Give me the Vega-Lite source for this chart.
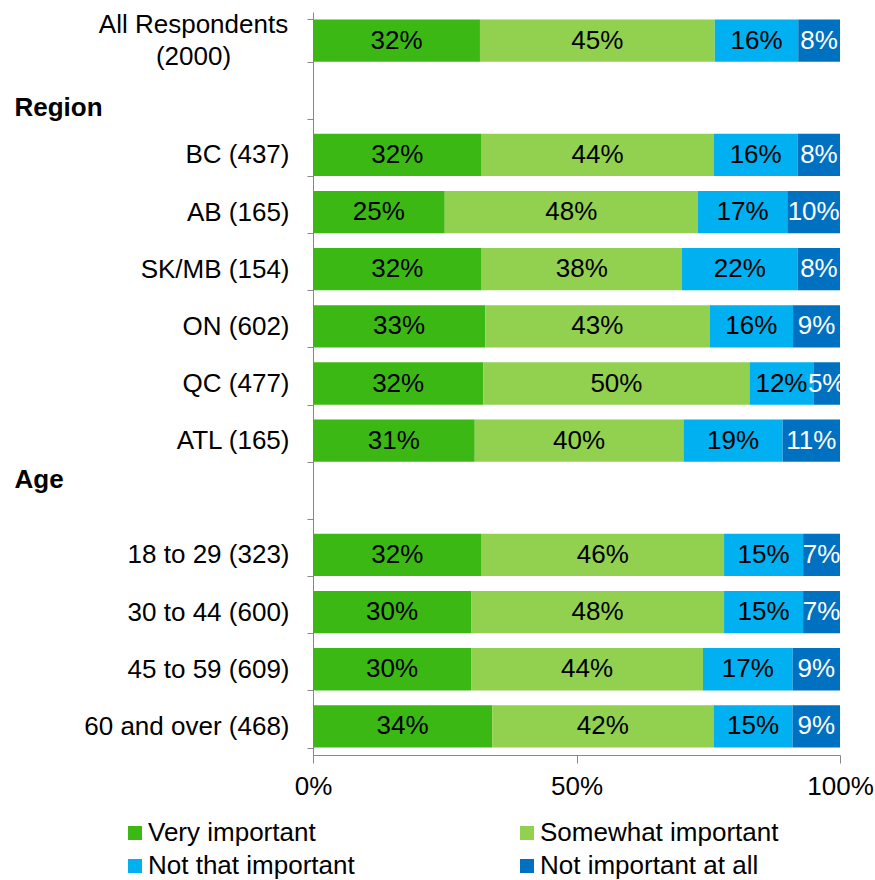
{
  "$schema": "https://vega.github.io/schema/vega-lite/v6.json",
  "width": 527,
  "height": 743,
  "autosize": "none",
  "padding": {"left": 313, "top": 12, "right": 35, "bottom": 125},
  "config": {"font": "Liberation Sans", "view": {"stroke": null}},
  "data": {
    "values": [
      {"cat": "All Respondents (2000)", "resp": "Very important", "pct": 32},
      {"cat": "All Respondents (2000)", "resp": "Somewhat important", "pct": 45},
      {"cat": "All Respondents (2000)", "resp": "Not that important", "pct": 16},
      {"cat": "All Respondents (2000)", "resp": "Not important at all", "pct": 8},
      {"cat": "BC (437)", "resp": "Very important", "pct": 32},
      {"cat": "BC (437)", "resp": "Somewhat important", "pct": 44},
      {"cat": "BC (437)", "resp": "Not that important", "pct": 16},
      {"cat": "BC (437)", "resp": "Not important at all", "pct": 8},
      {"cat": "AB (165)", "resp": "Very important", "pct": 25},
      {"cat": "AB (165)", "resp": "Somewhat important", "pct": 48},
      {"cat": "AB (165)", "resp": "Not that important", "pct": 17},
      {"cat": "AB (165)", "resp": "Not important at all", "pct": 10},
      {"cat": "SK/MB (154)", "resp": "Very important", "pct": 32},
      {"cat": "SK/MB (154)", "resp": "Somewhat important", "pct": 38},
      {"cat": "SK/MB (154)", "resp": "Not that important", "pct": 22},
      {"cat": "SK/MB (154)", "resp": "Not important at all", "pct": 8},
      {"cat": "ON (602)", "resp": "Very important", "pct": 33},
      {"cat": "ON (602)", "resp": "Somewhat important", "pct": 43},
      {"cat": "ON (602)", "resp": "Not that important", "pct": 16},
      {"cat": "ON (602)", "resp": "Not important at all", "pct": 9},
      {"cat": "QC (477)", "resp": "Very important", "pct": 32},
      {"cat": "QC (477)", "resp": "Somewhat important", "pct": 50},
      {"cat": "QC (477)", "resp": "Not that important", "pct": 12},
      {"cat": "QC (477)", "resp": "Not important at all", "pct": 5},
      {"cat": "ATL (165)", "resp": "Very important", "pct": 31},
      {"cat": "ATL (165)", "resp": "Somewhat important", "pct": 40},
      {"cat": "ATL (165)", "resp": "Not that important", "pct": 19},
      {"cat": "ATL (165)", "resp": "Not important at all", "pct": 11},
      {"cat": "18 to 29 (323)", "resp": "Very important", "pct": 32},
      {"cat": "18 to 29 (323)", "resp": "Somewhat important", "pct": 46},
      {"cat": "18 to 29 (323)", "resp": "Not that important", "pct": 15},
      {"cat": "18 to 29 (323)", "resp": "Not important at all", "pct": 7},
      {"cat": "30 to 44 (600)", "resp": "Very important", "pct": 30},
      {"cat": "30 to 44 (600)", "resp": "Somewhat important", "pct": 48},
      {"cat": "30 to 44 (600)", "resp": "Not that important", "pct": 15},
      {"cat": "30 to 44 (600)", "resp": "Not important at all", "pct": 7},
      {"cat": "45 to 59 (609)", "resp": "Very important", "pct": 30},
      {"cat": "45 to 59 (609)", "resp": "Somewhat important", "pct": 44},
      {"cat": "45 to 59 (609)", "resp": "Not that important", "pct": 17},
      {"cat": "45 to 59 (609)", "resp": "Not important at all", "pct": 9},
      {"cat": "60 and over (468)", "resp": "Very important", "pct": 34},
      {"cat": "60 and over (468)", "resp": "Somewhat important", "pct": 42},
      {"cat": "60 and over (468)", "resp": "Not that important", "pct": 15},
      {"cat": "60 and over (468)", "resp": "Not important at all", "pct": 9}
    ]
  },
  "transform": [
    {"calculate": "indexof(['Very important','Somewhat important','Not that important','Not important at all'], datum.resp)", "as": "ord"},
    {"stack": "pct", "groupby": ["cat"], "sort": [{"field": "ord", "order": "ascending"}], "offset": "normalize", "as": ["x0", "x1"]},
    {"calculate": "(datum.x0 + datum.x1) / 2", "as": "xm"},
    {"calculate": "datum.pct + '%'", "as": "lbl"}
  ],
  "encoding": {
    "y": {
      "field": "cat",
      "type": "nominal",
      "scale": {
        "domain": ["All Respondents (2000)", "Region", "BC (437)", "AB (165)", "SK/MB (154)", "ON (602)", "QC (477)", "ATL (165)", "Age", "18 to 29 (323)", "30 to 44 (600)", "45 to 59 (609)", "60 and over (468)"],
        "paddingInner": 0.26,
        "paddingOuter": 0.13
      },
      "axis": {
        "title": null,
        "domainColor": "#888888",
        "tickColor": "#888888",
        "tickSize": 6,
        "tickBand": "extent",
        "labelFontSize": 26,
        "labelColor": "#000000",
        "labelLimit": 400,
        "labelOverlap": false,
        "labelLineHeight": 32,
        "labelExpr": "datum.value == 'All Respondents (2000)' ? ['All Respondents', '(2000)'] : datum.label",
        "labelPadding": {"condition": [{"test": "datum.value == 'Region' || datum.value == 'Age'", "value": 293}, {"test": "datum.value == 'All Respondents (2000)'", "value": 114}], "value": 18},
        "labelAlign": {"condition": [{"test": "datum.value == 'Region' || datum.value == 'Age'", "value": "left"}, {"test": "datum.value == 'All Respondents (2000)'", "value": "center"}], "value": "right"},
        "labelFontWeight": {"condition": {"test": "datum.value == 'Region' || datum.value == 'Age'", "value": "bold"}, "value": "normal"},
        "labelOffset": {"condition": [{"test": "datum.value == 'Region'", "value": 10}, {"test": "datum.value == 'Age'", "value": -18}, {"test": "datum.value == 'All Respondents (2000)'", "value": -16}], "value": 0}
      }
    }
  },
  "layer": [
    {
      "mark": {"type": "bar"},
      "encoding": {
        "x": {
          "field": "x0",
          "type": "quantitative",
          "scale": {"domain": [0, 1], "nice": false},
          "axis": {
            "title": null,
            "values": [0, 0.5, 1],
            "format": "%",
            "grid": false,
            "domainColor": "#888888",
            "tickColor": "#888888",
            "tickSize": 8,
            "labelFontSize": 26,
            "labelColor": "#000000",
            "labelPadding": 10,
            "labelFlush": false
          }
        },
        "x2": {"field": "x1"},
        "color": {
          "field": "resp",
          "type": "nominal",
          "scale": {
            "domain": ["Very important", "Somewhat important", "Not that important", "Not important at all"],
            "range": ["#3CB815", "#92D050", "#00B0F0", "#0070C0"]
          },
          "legend": {
            "title": null,
            "orient": "none",
            "direction": "horizontal",
            "legendX": -191,
            "legendY": 808,
            "columns": 2,
            "columnPadding": 159,
            "rowPadding": 7,
            "symbolType": "square",
            "symbolSize": 196,
            "symbolStrokeWidth": 0,
            "labelFontSize": 26,
            "labelOffset": 0,
            "labelColor": "#000000",
            "labelLimit": 400
          }
        }
      }
    },
    {
      "mark": {"type": "text", "fontSize": 26, "baseline": "middle", "align": "center"},
      "encoding": {
        "x": {"field": "xm", "type": "quantitative"},
        "text": {"field": "lbl"},
        "color": {"condition": {"test": "datum.resp == 'Not important at all'", "value": "#ffffff"}, "value": "#000000"}
      }
    }
  ]
}
